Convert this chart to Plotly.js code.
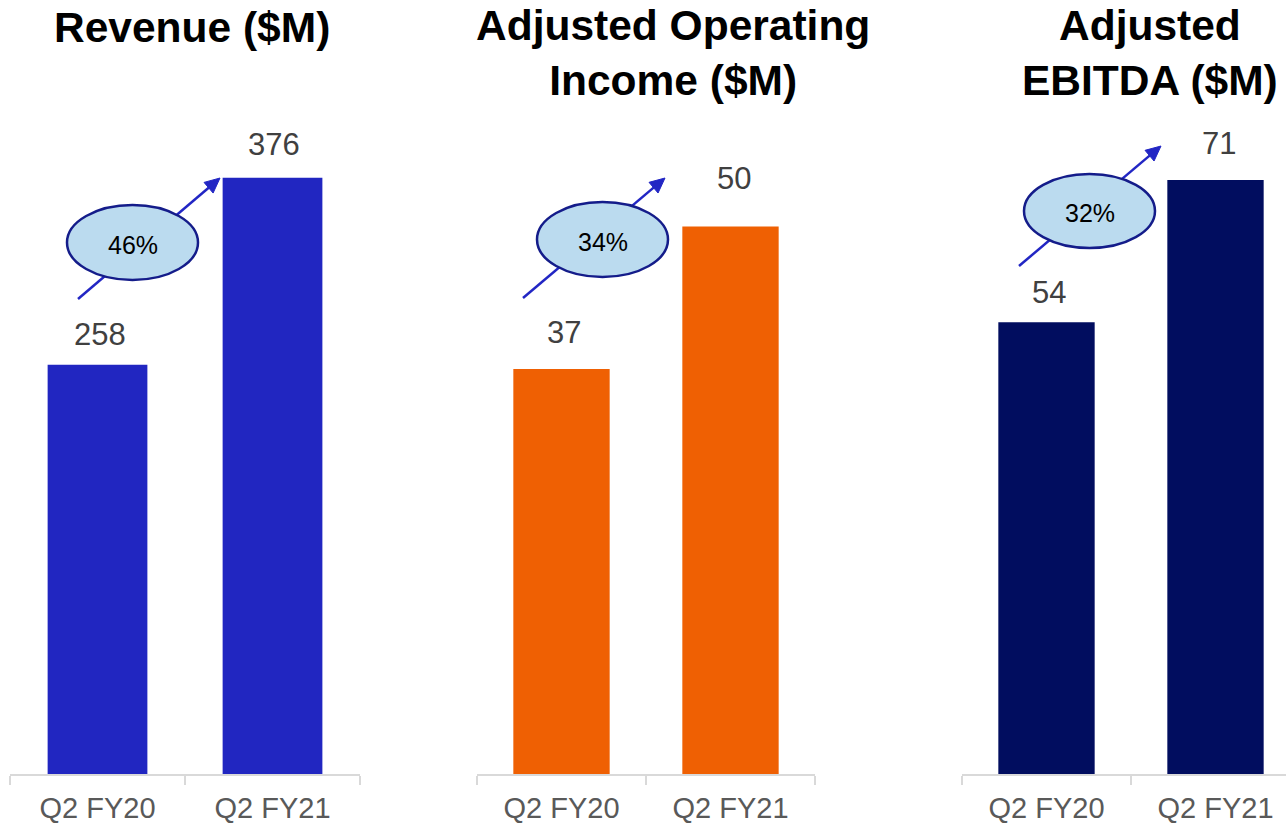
<!DOCTYPE html>
<html>
<head>
<meta charset="utf-8">
<script src="https://cdn.plot.ly/plotly-3.0.1.min.js"></script>
<style>
  html, body { margin: 0; padding: 0; overflow: hidden; background: #fff; }
  #chart { width: 1300px; height: 825px; }
</style>
</head>
<body>
<div id="chart"></div>
<script>
// Quarter categories and the three reported metrics
const categories = ['Q2 FY20', 'Q2 FY21'];
const revenue = [258, 376];
const adjOperatingIncome = [37, 50];
const adjEbitda = [54, 71];
const growthLabels = ['46%', '34%', '32%'];
const panelTitles = ['Revenue ($M)', 'Adjusted Operating<br>Income ($M)', 'Adjusted<br>EBITDA ($M)'];

const W = 1300, H = 825;
const FONT = 'Liberation Sans, Arial, sans-serif';
const px = x => x / W;
const py = y => 1 - y / H;

const panels = [
  { values: revenue, color: '#2126C1', domain: [10, 360], range: [0, 488],
    labelShift: [30, 33], labelDx: [2, 1], titleX: 192, titleY: 28,
    arrow: { from: [78, 299], to: [220, 178] }, ellipse: [67, 205, 198, 280] },
  { values: adjOperatingIncome, color: '#EF6003', domain: [477, 815], range: [0, 70.7],
    labelShift: [36, 48], labelDx: [2, 3], titleX: 673, titleY: 53,
    arrow: { from: [523, 298], to: [665, 178] }, ellipse: [537, 202, 668, 277] },
  { values: adjEbitda, color: '#010D5F', domain: [962, 1300], range: [0, 92.5],
    labelShift: [30, 36], labelDx: [2, 3], titleX: 1150, titleY: 53,
    arrow: { from: [1019, 266], to: [1161, 146] }, ellipse: [1024, 174, 1155, 248] }
];

const traces = [];
const layout = {
  width: W, height: H,
  margin: { l: 0, r: 0, t: 0, b: 0 },
  paper_bgcolor: '#fff', plot_bgcolor: '#fff',
  showlegend: false,
  bargap: 0.43,
  font: { family: FONT },
  shapes: [], annotations: []
};

panels.forEach((p, i) => {
  const n = i === 0 ? '' : String(i + 1);
  traces.push({
    type: 'bar', x: categories, y: p.values,
    xaxis: 'x' + n, yaxis: 'y' + n,
    marker: { color: p.color, line: { width: 0 } },
    hoverinfo: 'skip'
  });

  layout['xaxis' + n] = {
    domain: [px(p.domain[0]), px(p.domain[1])],
    anchor: 'y' + n,
    type: 'category',
    showline: true, linecolor: '#D9D9D9', linewidth: 2,
    ticks: 'outside', tickson: 'boundaries', ticklen: 9, tickcolor: '#D9D9D9', tickwidth: 2,
    ticklabelstandoff: 7,
    tickfont: { family: FONT, size: 29, color: '#595959' },
    showgrid: false, zeroline: false, fixedrange: true
  };
  layout['yaxis' + n] = {
    domain: [1 - 774 / H, 1],
    anchor: 'x' + n,
    range: p.range,
    visible: false, showgrid: false, zeroline: false, fixedrange: true
  };

  // value labels above each bar
  p.values.forEach((v, k) => {
    layout.annotations.push({
      xref: 'x' + n, yref: 'y' + n, x: categories[k], y: v,
      text: String(v), showarrow: false,
      yanchor: 'middle', yshift: p.labelShift[k], xshift: p.labelDx[k],
      font: { family: FONT, size: 31, color: '#404040' }
    });
  });

  // panel title
  layout.annotations.push({
    xref: 'paper', yref: 'paper', x: px(p.titleX), y: py(p.titleY),
    text: '<b>' + panelTitles[i] + '</b>', showarrow: false,
    xanchor: 'center', yanchor: 'middle',
    font: { family: FONT, size: 42.5, color: '#000' }
  });

  // growth arrow: shaft, head, then the ellipse over it
  const [sx, sy] = p.arrow.from, [tx, ty] = p.arrow.to;
  const len = Math.hypot(tx - sx, ty - sy);
  const ux = (tx - sx) / len, uy = (ty - sy) / len;
  const headL = 15, headW = 7;
  const bx = tx - headL * ux, by = ty - headL * uy;
  const nx = -uy, ny = ux;
  layout.shapes.push({
    type: 'line', xref: 'paper', yref: 'paper',
    x0: px(sx), y0: py(sy), x1: px(bx + 2 * ux), y1: py(by + 2 * uy),
    line: { color: '#2226C4', width: 2.5 }
  });
  const pts = [[tx, ty], [bx + headW * nx, by + headW * ny], [bx - headW * nx, by - headW * ny]];
  layout.shapes.push({
    type: 'path', xref: 'paper', yref: 'paper',
    path: 'M' + pts.map(q => px(q[0]) + ',' + py(q[1])).join(' L') + ' Z',
    fillcolor: '#2226C4', line: { color: '#2226C4', width: 1 }
  });
  const [ex0, ey0, ex1, ey1] = p.ellipse;
  layout.shapes.push({
    type: 'circle', xref: 'paper', yref: 'paper',
    x0: px(ex0), y0: py(ey1), x1: px(ex1), y1: py(ey0),
    fillcolor: '#BBDBEF', line: { color: '#141C8A', width: 2.5 }
  });
  layout.annotations.push({
    xref: 'paper', yref: 'paper', x: px((ex0 + ex1) / 2), y: py((ey0 + ey1) / 2 + 2),
    text: growthLabels[i], showarrow: false, xanchor: 'center', yanchor: 'middle',
    font: { family: FONT, size: 25, color: '#000' }
  });
});

Plotly.newPlot('chart', traces, layout, { staticPlot: true, displayModeBar: false });
</script>
</body>
</html>
